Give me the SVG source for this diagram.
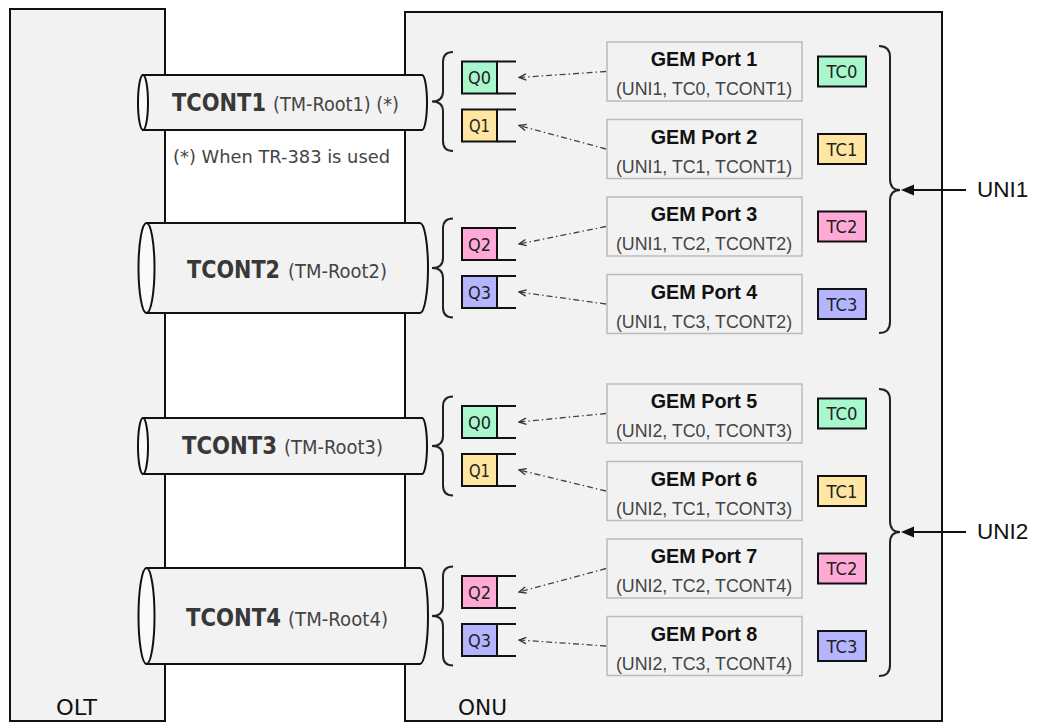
<svg xmlns="http://www.w3.org/2000/svg" width="1039" height="723" viewBox="0 0 1039 723">
<style>
.box{fill:#f2f2f2;stroke:#111;stroke-width:2}
.cyl{fill:#f2f2f2;stroke:#111;stroke-width:2}
.cylend{fill:#fafafa;stroke:#111;stroke-width:2}
.tb{font-family:"DejaVu Sans",sans-serif;font-weight:bold;font-size:24px;fill:#383838}
.ts{font-family:"DejaVu Sans",sans-serif;font-size:19.5px;fill:#444}
.lbl{font-family:"DejaVu Sans",sans-serif;font-size:21px;fill:#111}
.q{stroke:#111;stroke-width:2}
.qt{font-family:"DejaVu Sans",sans-serif;font-size:17.5px;fill:#222;text-anchor:middle}
.gem{fill:#f2f2f2;stroke:#bbb;stroke-width:1.5}
.gt{font-family:"Liberation Sans",Arial,sans-serif;font-weight:bold;font-size:19.8px;fill:#111;text-anchor:middle}
.gs{font-family:"Liberation Sans",Arial,sans-serif;font-size:17.8px;fill:#444;text-anchor:middle}
.tc{stroke:#111;stroke-width:2}
.brace{fill:none;stroke:#222;stroke-width:2}
.conn{fill:none;stroke:#444;stroke-width:1.3;stroke-dasharray:6 3 1.5 3}
.uni{font-family:"Liberation Sans",Arial,sans-serif;font-size:22.5px;fill:#111}
.c0{fill:#a8f7cd}.c1{fill:#ffe6a3}.c2{fill:#ffaad6}.c3{fill:#b5b5ff}
</style>
<defs>
<marker id="open" viewBox="0 0 10 10" refX="9" refY="5" markerWidth="9" markerHeight="9" markerUnits="userSpaceOnUse" orient="auto">
<path d="M1,1.5 L9,5 L1,8.5" fill="none" stroke="#333" stroke-width="1.5"/>
</marker>
</defs>

<g id="olt">
<rect class="box" x="10" y="9" width="155" height="712"/>
<text class="lbl" x="56" y="715" textLength="41" lengthAdjust="spacingAndGlyphs">OLT</text>
</g>
<g id="onu">
<rect class="box" x="405" y="12" width="537" height="709"/>
<text class="lbl" x="458" y="715" textLength="49" lengthAdjust="spacingAndGlyphs">ONU</text>
</g>

<g id="tcont1">
<path class="cyl" d="M143,75 H422 A5,27.5 0 0 1 422,130 H143 Z"/>
<ellipse class="cylend" cx="143" cy="102.5" rx="5" ry="27.5"/>
<text class="tb" x="172" y="111" textLength="94" lengthAdjust="spacingAndGlyphs">TCONT1</text>
<text class="ts" x="273" y="111" textLength="126" lengthAdjust="spacingAndGlyphs">(TM-Root1) (*)</text>
</g>
<g id="note">
<text class="ts" x="173" y="163" style="font-size:18px" textLength="217" lengthAdjust="spacingAndGlyphs">(*) When TR-383 is used</text>
</g>
<g id="tcont2">
<path class="cyl" d="M146.5,223 H420 A8,45 0 0 1 420,313 H146.5 Z"/>
<ellipse class="cylend" cx="146.5" cy="268" rx="8" ry="45"/>
<text class="tb" x="187" y="278" textLength="93" lengthAdjust="spacingAndGlyphs">TCONT2</text>
<text class="ts" x="288" y="278" textLength="99" lengthAdjust="spacingAndGlyphs">(TM-Root2)</text>
</g>
<g id="tcont3">
<path class="cyl" d="M143,418 H422 A5,28 0 0 1 422,474 H143 Z"/>
<ellipse class="cylend" cx="143" cy="446" rx="5" ry="28"/>
<text class="tb" x="182" y="454" textLength="95" lengthAdjust="spacingAndGlyphs">TCONT3</text>
<text class="ts" x="284" y="454" textLength="99" lengthAdjust="spacingAndGlyphs">(TM-Root3)</text>
</g>
<g id="tcont4">
<path class="cyl" d="M146.5,568 H420 A8,48 0 0 1 420,664 H146.5 Z"/>
<ellipse class="cylend" cx="146.5" cy="616" rx="8" ry="48"/>
<text class="tb" x="186" y="626" textLength="95" lengthAdjust="spacingAndGlyphs">TCONT4</text>
<text class="ts" x="288" y="626" textLength="100" lengthAdjust="spacingAndGlyphs">(TM-Root4)</text>
</g>

<g id="braces-left">
<path class="brace" d="M453,52 Q443,52 443,62 L443,91.5 Q443,101.5 432,101.5 Q443,101.5 443,111.5 L443,141 Q443,151 453,151"/>
<path class="brace" d="M453,218.5 Q443,218.5 443,228.5 L443,258 Q443,268 432,268 Q443,268 443,278 L443,307.5 Q443,317.5 453,317.5"/>
<path class="brace" d="M453,396.5 Q443,396.5 443,406.5 L443,436 Q443,446 432,446 Q443,446 443,456 L443,485.5 Q443,495.5 453,495.5"/>
<path class="brace" d="M453,566.5 Q443,566.5 443,576.5 L443,606 Q443,616 432,616 Q443,616 443,626 L443,655.5 Q443,665.5 453,665.5"/>
</g>

<g id="q-t1-0">
<rect class="q c0" x="462" y="61.5" width="35" height="32"/>
<path class="q" d="M497,61.5 H516 M497,93.5 H516"/>
<text class="qt" x="479.5" y="84" textLength="23" lengthAdjust="spacingAndGlyphs">Q0</text>
</g>
<g id="q-t1-1">
<rect class="q c1" x="462" y="109.5" width="35" height="32"/>
<path class="q" d="M497,109.5 H516 M497,141.5 H516"/>
<text class="qt" x="479.5" y="132" textLength="21" lengthAdjust="spacingAndGlyphs">Q1</text>
</g>
<g id="q-t2-2">
<rect class="q c2" x="462" y="228" width="35" height="32"/>
<path class="q" d="M497,228 H516 M497,260 H516"/>
<text class="qt" x="479.5" y="250.5" textLength="23" lengthAdjust="spacingAndGlyphs">Q2</text>
</g>
<g id="q-t2-3">
<rect class="q c3" x="462" y="276" width="35" height="32"/>
<path class="q" d="M497,276 H516 M497,308 H516"/>
<text class="qt" x="479.5" y="298.5" textLength="23" lengthAdjust="spacingAndGlyphs">Q3</text>
</g>
<g id="q-t3-0">
<rect class="q c0" x="462" y="406" width="35" height="32"/>
<path class="q" d="M497,406 H516 M497,438 H516"/>
<text class="qt" x="479.5" y="428.5" textLength="23" lengthAdjust="spacingAndGlyphs">Q0</text>
</g>
<g id="q-t3-1">
<rect class="q c1" x="462" y="454" width="35" height="32"/>
<path class="q" d="M497,454 H516 M497,486 H516"/>
<text class="qt" x="479.5" y="476.5" textLength="21" lengthAdjust="spacingAndGlyphs">Q1</text>
</g>
<g id="q-t4-2">
<rect class="q c2" x="462" y="576" width="35" height="32"/>
<path class="q" d="M497,576 H516 M497,608 H516"/>
<text class="qt" x="479.5" y="598.5" textLength="23" lengthAdjust="spacingAndGlyphs">Q2</text>
</g>
<g id="q-t4-3">
<rect class="q c3" x="462" y="624" width="35" height="32"/>
<path class="q" d="M497,624 H516 M497,656 H516"/>
<text class="qt" x="479.5" y="646.5" textLength="23" lengthAdjust="spacingAndGlyphs">Q3</text>
</g>

<g id="gem1"><rect class="gem" x="607" y="42" width="195" height="59"/>
<text class="gt" x="704" y="66">GEM Port 1</text><text class="gs" x="704" y="95">(UNI1,  TC0, TCONT1)</text></g>
<g id="gem2"><rect class="gem" x="607" y="119.5" width="195" height="59"/>
<text class="gt" x="704" y="143.5">GEM Port 2</text><text class="gs" x="704" y="172.5">(UNI1,  TC1, TCONT1)</text></g>
<g id="gem3"><rect class="gem" x="607" y="197" width="195" height="59"/>
<text class="gt" x="704" y="221">GEM Port 3</text><text class="gs" x="704" y="250">(UNI1,  TC2, TCONT2)</text></g>
<g id="gem4"><rect class="gem" x="607" y="274.5" width="195" height="59"/>
<text class="gt" x="704" y="298.5">GEM Port 4</text><text class="gs" x="704" y="327.5">(UNI1,  TC3, TCONT2)</text></g>
<g id="gem5"><rect class="gem" x="607" y="384" width="195" height="59"/>
<text class="gt" x="704" y="408">GEM Port 5</text><text class="gs" x="704" y="437">(UNI2,  TC0, TCONT3)</text></g>
<g id="gem6"><rect class="gem" x="607" y="461.5" width="195" height="59"/>
<text class="gt" x="704" y="485.5">GEM Port 6</text><text class="gs" x="704" y="514.5">(UNI2,  TC1, TCONT3)</text></g>
<g id="gem7"><rect class="gem" x="607" y="539" width="195" height="59"/>
<text class="gt" x="704" y="563">GEM Port 7</text><text class="gs" x="704" y="592">(UNI2,  TC2, TCONT4)</text></g>
<g id="gem8"><rect class="gem" x="607" y="616.5" width="195" height="59"/>
<text class="gt" x="704" y="640.5">GEM Port 8</text><text class="gs" x="704" y="669.5">(UNI2,  TC3, TCONT4)</text></g>

<g id="tc-u1-0"><rect class="tc c0" x="818" y="56.5" width="48" height="30"/><text class="qt" x="842" y="78" textLength="31" lengthAdjust="spacingAndGlyphs">TC0</text></g>
<g id="tc-u1-1"><rect class="tc c1" x="818" y="134" width="48" height="30"/><text class="qt" x="842" y="155.5" textLength="31" lengthAdjust="spacingAndGlyphs">TC1</text></g>
<g id="tc-u1-2"><rect class="tc c2" x="818" y="211.5" width="48" height="30"/><text class="qt" x="842" y="233" textLength="31" lengthAdjust="spacingAndGlyphs">TC2</text></g>
<g id="tc-u1-3"><rect class="tc c3" x="818" y="289" width="48" height="30"/><text class="qt" x="842" y="310.5" textLength="31" lengthAdjust="spacingAndGlyphs">TC3</text></g>
<g id="tc-u2-0"><rect class="tc c0" x="818" y="398.5" width="48" height="30"/><text class="qt" x="842" y="420" textLength="31" lengthAdjust="spacingAndGlyphs">TC0</text></g>
<g id="tc-u2-1"><rect class="tc c1" x="818" y="476" width="48" height="30"/><text class="qt" x="842" y="497.5" textLength="31" lengthAdjust="spacingAndGlyphs">TC1</text></g>
<g id="tc-u2-2"><rect class="tc c2" x="818" y="553.5" width="48" height="30"/><text class="qt" x="842" y="575" textLength="31" lengthAdjust="spacingAndGlyphs">TC2</text></g>
<g id="tc-u2-3"><rect class="tc c3" x="818" y="631" width="48" height="30"/><text class="qt" x="842" y="652.5" textLength="31" lengthAdjust="spacingAndGlyphs">TC3</text></g>

<g id="uni1">
<path class="brace" d="M879,46 Q890,46 890,57 L890,179 Q890,190 900,190 Q890,190 890,201 L890,322 Q890,333 879,333"/>
<text class="uni" x="977" y="197">UNI1</text>
</g>
<g id="uni2">
<path class="brace" d="M879,389 Q890,389 890,400 L890,521 Q890,532 900,532 Q890,532 890,543 L890,665 Q890,676 879,676"/>
<text class="uni" x="977" y="539">UNI2</text>
</g>

<g id="connectors">
<path class="conn" d="M606,71.5 L519,77.5" marker-end="url(#open)"/>
<path class="conn" d="M606,149 L519,125.5" marker-end="url(#open)"/>
<path class="conn" d="M606,226.5 L519,244" marker-end="url(#open)"/>
<path class="conn" d="M606,304 L519,292" marker-end="url(#open)"/>
<path class="conn" d="M606,413.5 L519,422" marker-end="url(#open)"/>
<path class="conn" d="M606,491 L519,470" marker-end="url(#open)"/>
<path class="conn" d="M606,568.5 L519,592" marker-end="url(#open)"/>
<path class="conn" d="M606,646 L519,640" marker-end="url(#open)"/>
<path d="M966,190 H913" stroke="#111" stroke-width="2"/>
<polygon points="901,190 914,184.5 914,195.5" fill="#111"/>
<path d="M966,532 H913" stroke="#111" stroke-width="2"/>
<polygon points="901,532 914,526.5 914,537.5" fill="#111"/>
</g>
</svg>
